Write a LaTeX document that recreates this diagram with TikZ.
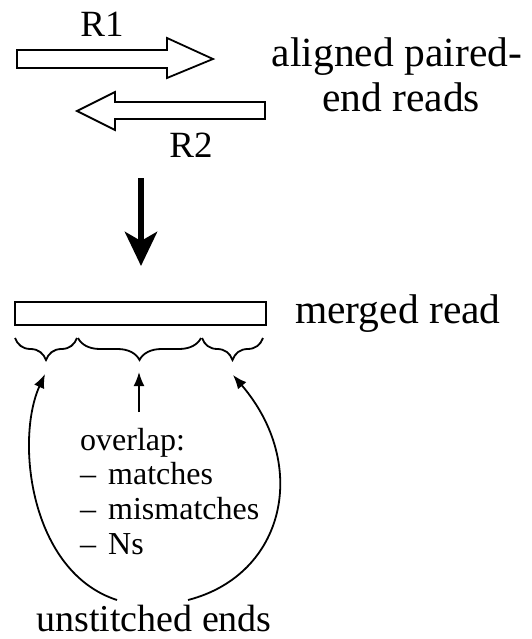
\documentclass[tikz,border=0pt]{standalone}
\usepackage{fontspec}
\setmainfont{Liberation Serif}
\usetikzlibrary{arrows.meta,decorations.pathreplacing}
\begin{document}
\begin{tikzpicture}[x=1pt,y=-1pt,
  bigtxt/.style={inner sep=0pt,text depth=0pt,font=\fontsize{37}{45}\selectfont},
  widetxt/.style={inner sep=0pt,text depth=0pt,font=\fontsize{41.5}{45}\selectfont},
  smalltxt/.style={inner sep=0pt,font=\fontsize{32}{35}\selectfont},
  readarrow/.style={draw=black,fill=white,line width=1.8pt,line join=miter},
  brc/.style={decorate,decoration={brace,mirror,amplitude=22pt,aspect=0.5},line width=1.8pt},
  ptr/.style={line width=1.8pt,-{Latex[length=14pt,width=11pt]}}]
\useasboundingbox (0,0) rectangle (532,639);
% aligned reads
\draw[readarrow] (17,50) -- (167,50) -- (167,38) -- (213,59) -- (167,78) -- (167,68) -- (17,68) -- cycle;
\draw[readarrow] (265,102) -- (115,102) -- (115,92) -- (77,111) -- (115,130) -- (115,119) -- (265,119) -- cycle;
\node[bigtxt,anchor=base] (r1) at (102,37) {R1};
\node[bigtxt,anchor=base] (r2) at (191,158) {R2};
\node[widetxt,anchor=base] (al1) at (397,67) {aligned paired-};
\node[widetxt,anchor=base] (al2) at (401,112) {end reads};
% down arrow
\coordinate (ds) at (141,178);
\coordinate (de) at (141,266);
\draw[line width=6.5pt,-{Stealth[length=34pt,width=32pt,inset=9pt]}] (ds) -- (de);
% merged read
\draw[line width=2.4pt] (15,302) rectangle (266,325);
\node[widetxt,anchor=base west] (mr) at (295,323) {merged read};
% braces
\draw[brc] (15,338) -- (77,338);
\draw[brc] (78,338) -- (201,338);
\draw[brc] (202,338) -- (263,338);
\coordinate (b1) at (45,374);
\coordinate (b2) at (139,372);
\coordinate (b3) at (233,375);
% overlap text
\node[smalltxt,anchor=base west] (ov) at (80,450) {overlap:};
\node[smalltxt,anchor=base west] (m1) at (80,484) {\makebox[28pt][l]{–}matches};
\node[smalltxt,anchor=base west] (m2) at (80,519) {\makebox[28pt][l]{–}mismatches};
\node[smalltxt,anchor=base west] (m3) at (80,554) {\makebox[28pt][l]{–}Ns};
\coordinate (os) at (139,412);
\draw[ptr] (os) -- (b2);
% unstitched ends
\node[bigtxt,font=\fontsize{38}{45}\selectfont,anchor=base] (ue) at (154,631) {unstitched ends};
\coordinate (u1) at (117,600);
\coordinate (u2) at (188,600);
\draw[ptr] (u1) .. controls (30,572) and (15,440) .. (b1);
\draw[ptr] (u2) .. controls (285,575) and (310,465) .. (b3);
\end{tikzpicture}
\end{document}
